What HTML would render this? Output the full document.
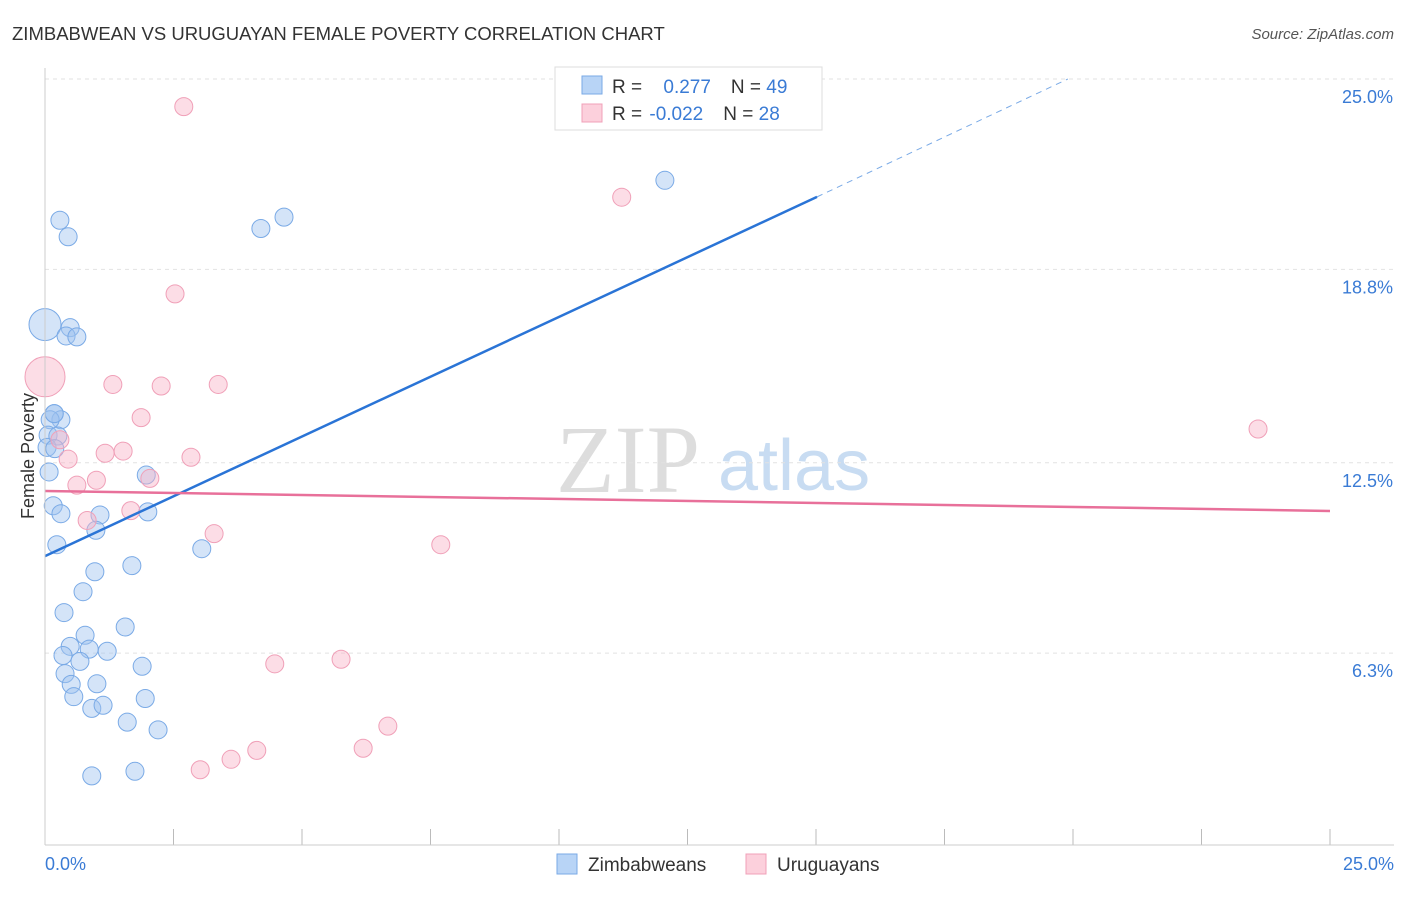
<!DOCTYPE html>
<html><head><meta charset="utf-8"><style>
body{margin:0;background:#fff;font-family:"Liberation Sans",sans-serif;}
</style></head><body>
<svg width="1406" height="892" xmlns="http://www.w3.org/2000/svg" id="chart">
<text x="12" y="40" font-size="18.5" fill="#333">ZIMBABWEAN VS URUGUAYAN FEMALE POVERTY CORRELATION CHART</text>
<text x="1394" y="39" font-size="15" fill="#555" text-anchor="end" font-style="italic">Source: ZipAtlas.com</text>
<text x="700" y="492" font-size="96" fill="#ddd" text-anchor="end" font-family="Liberation Serif">ZIP</text>
<text x="718" y="490" font-size="72" fill="#c8dcf2">atlas</text>
<text x="34" y="456" font-size="18" fill="#333" text-anchor="middle" transform="rotate(-90 34 456)">Female Poverty</text>
<g id="grid"></g><g id="ticks"></g><g id="pts"></g><g id="lines"></g>
<line x1="45" y1="68" x2="45" y2="845" stroke="#ccc"/>
<line x1="45" y1="845" x2="1394" y2="845" stroke="#ccc"/>
<text x="45" y="870" font-size="18" fill="#3a7bd5">0.0%</text>
<text x="1394" y="870" font-size="18" fill="#3a7bd5" text-anchor="end">25.0%</text>
<g>
<rect x="555" y="67" width="267" height="63" fill="#fff" stroke="#ddd"/>
<rect x="582" y="76" width="20" height="18" fill="#b8d4f6" stroke="#7aaae6"/>
<rect x="582" y="104" width="20" height="18" fill="#fcd0dc" stroke="#f0a0b8"/>
<text x="612" y="93" font-size="19" fill="#333">R = <tspan fill="#3a7bd5" dx="16">0.277</tspan><tspan dx="20">N = </tspan><tspan fill="#3a7bd5">49</tspan></text>
<text x="612" y="120" font-size="19" fill="#333">R = <tspan fill="#3a7bd5" dx="2">-0.022</tspan><tspan dx="20">N = </tspan><tspan fill="#3a7bd5">28</tspan></text>
</g>
<g><rect x="557" y="854" width="20" height="20" fill="#b8d4f6" stroke="#7aaae6"/><text x="588" y="871" font-size="19" fill="#333">Zimbabweans</text></g>
<g><rect x="746" y="854" width="20" height="20" fill="#fcd0dc" stroke="#f0a0b8"/><text x="777" y="871" font-size="19" fill="#333">Uruguayans</text></g>
</svg>
<script>
const yTicks=[25.0,18.8,12.5,6.3];
const yTickLabels=["25.0%","18.8%","12.5%","6.3%"];
const xTicks=[0,2.5,5,7.5,10,12.5,15,17.5,20,22.5,25];
const zimX=[0,0.29,0.45,0.49,0.41,0.62,0.18,0.31,0.10,0.06,0.25,0.04,0.19,0.08,0.16,0.31,0.23,1.07,0.99,1.97,2.00,3.05,0.97,1.69,0.74,0.37,1.56,0.78,0.49,0.86,1.21,0.35,0.68,1.89,0.39,1.01,0.51,0.56,1.95,0.91,1.13,1.60,2.20,0.91,1.75,4.2,4.65,12.06,0.18];
const zimY=[17.0,20.4,19.86,16.9,16.63,16.6,14.1,13.9,13.9,13.4,13.37,13.0,12.96,12.2,11.1,10.84,9.83,10.8,10.3,12.1,10.9,9.7,8.95,9.15,8.3,7.62,7.15,6.88,6.52,6.43,6.36,6.22,6.03,5.87,5.63,5.3,5.28,4.88,4.82,4.5,4.6,4.05,3.8,2.3,2.45,20.13,20.5,21.7,14.1];
const uruX=[2.70,11.22,2.53,0,1.32,2.26,3.37,1.87,0.29,0.45,1.52,1.17,2.84,1.0,0.62,2.04,1.67,0.82,3.29,7.70,4.47,5.76,6.67,6.19,4.12,3.62,3.02,23.6];
const uruY=[24.1,21.15,18.0,15.3,15.05,15.0,15.05,13.97,13.25,12.62,12.88,12.81,12.68,11.93,11.77,11.99,10.94,10.62,10.19,9.83,5.95,6.1,3.92,3.2,3.13,2.84,2.5,13.6];
const zimBig=[0]; const uruBig=[3];
const zimTrend=[[0,9.46],[15.02,21.16],[19.9,25]];
const uruTrend=[[0,11.58],[25,10.93]];
const NS="http://www.w3.org/2000/svg";
const X=v=>45+v*51.4, Y=v=>79+(25-v)*30.7;
function mk(p,t,a){const e=document.createElementNS(NS,t);for(const k in a)e.setAttribute(k,a[k]);p.appendChild(e);return e;}
const grid=document.getElementById('grid');
yTicks.forEach((t,i)=>{
 const l=mk(grid,'line',{x1:45,x2:1394,y1:Y(t),y2:Y(t),stroke:'#e2e2e2','stroke-dasharray':'4,4'});
 
 
 const tx=mk(grid,'text',{x:1393,y:Y(t)+24,'font-size':18,fill:'#3a7bd5','text-anchor':'end'});
 tx.textContent=yTickLabels[i];
 
 
});
const ticks=document.getElementById('ticks');
xTicks.forEach(t=>{
 const l=mk(ticks,'line',{x1:X(t),x2:X(t),y1:829,y2:845,stroke:'#bbb'});
 
 
});
const pts=document.getElementById('pts');
zimX.forEach((x,i)=>{
 const c=mk(pts,'circle',{cx:X(x),cy:Y(zimY[i]),r:zimBig.includes(i)?16:9,fill:'rgba(160,196,240,0.45)',stroke:'#7aaae6','stroke-width':1});
 
 
});
uruX.forEach((x,i)=>{
 const c=mk(pts,'circle',{cx:X(x),cy:Y(uruY[i]),r:uruBig.includes(i)?20:9,fill:'rgba(248,180,200,0.45)',stroke:'#f0a0b8','stroke-width':1});
 
 
});
const ln=document.getElementById('lines');
let a=mk(ln,'line',{x1:X(zimTrend[0][0]),y1:Y(zimTrend[0][1]),x2:X(zimTrend[1][0]),y2:Y(zimTrend[1][1]),stroke:'#2a74d6','stroke-width':2.5});


let b=mk(ln,'line',{x1:X(zimTrend[1][0]),y1:Y(zimTrend[1][1]),x2:X(zimTrend[2][0]),y2:Y(zimTrend[2][1]),stroke:'#7aaae6','stroke-width':1,'stroke-dasharray':'6,5'});


let c=mk(ln,'line',{x1:X(uruTrend[0][0]),y1:Y(uruTrend[0][1]),x2:X(uruTrend[1][0]),y2:Y(uruTrend[1][1]),stroke:'#e8709a','stroke-width':2.5});


</script>
</body></html>
